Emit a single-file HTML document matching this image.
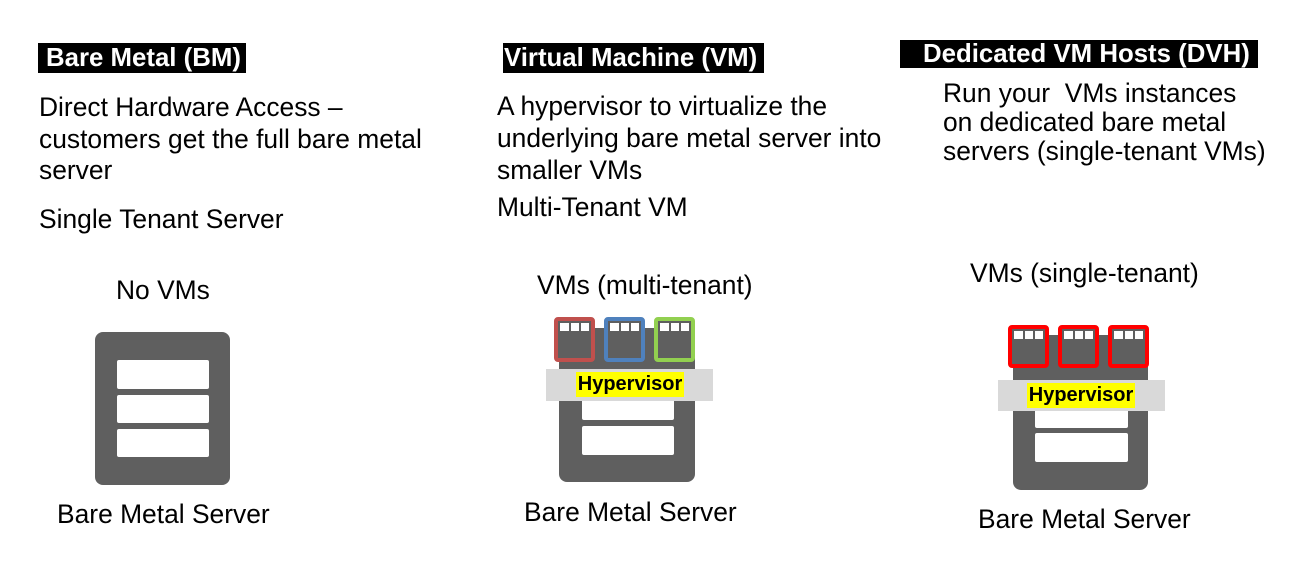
<!DOCTYPE html>
<html><head><meta charset="utf-8"><style>
body{margin:0;width:1296px;height:576px;background:#fff;position:relative;overflow:hidden;font-family:"Liberation Sans",sans-serif;color:#000}
.t{position:absolute;font-size:26.4px;line-height:32px;white-space:nowrap}
.h{position:absolute;background:#000;color:#fff;font-weight:bold;font-size:25.8px;line-height:30px;white-space:nowrap;overflow:hidden}
.srv{position:absolute;background:#5f5f5f;border-radius:8px}
.w{position:absolute;background:#fff;border-radius:2px}
.hyp{position:absolute;background:#d9d9d9}
.y{position:absolute;background:#ff0;font-weight:bold;font-size:20px;line-height:25px;text-align:center}
.vm{position:absolute;width:33px;height:37px;border:4px solid;border-radius:4px;background:#5f5f5f}
.vm i{position:absolute;background:#fff}
</style></head><body>
<div class="h" style="left:38px;top:43px;width:208px;height:30px;padding-left:8px;box-sizing:border-box">Bare Metal (BM)</div>
<div class="h" style="left:503px;top:43px;width:261px;height:30px;padding-left:1px;box-sizing:border-box">Virtual Machine (VM)</div>
<div class="h" style="left:900px;top:40px;width:358px;height:28px;line-height:28px;padding-left:23px;box-sizing:border-box">Dedicated VM Hosts (DVH)</div>

<div class="t" style="left:39px;top:91px">Direct Hardware Access –</div>
<div class="t" style="left:39px;top:123px">customers get the full bare metal</div>
<div class="t" style="left:39px;top:154px">server</div>
<div class="t" style="left:39px;top:203px">Single Tenant Server</div>

<div class="t" style="left:497px;top:90px">A hypervisor to virtualize the</div>
<div class="t" style="left:497px;top:122px">underlying bare metal server into</div>
<div class="t" style="left:497px;top:154px">smaller VMs</div>
<div class="t" style="left:497px;top:191px">Multi-Tenant VM</div>

<div class="t" style="left:943px;top:79px;line-height:29px">Run your&nbsp; VMs instances<br>on dedicated bare metal<br>servers (single-tenant VMs)</div>

<div class="t" style="left:116px;top:274px">No VMs</div>
<div class="t" style="left:537px;top:269px">VMs (multi-tenant)</div>
<div class="t" style="left:970px;top:257px">VMs (single-tenant)</div>
<div class="t" style="left:57px;top:498px">Bare Metal Server</div>
<div class="t" style="left:524px;top:496px">Bare Metal Server</div>
<div class="t" style="left:978px;top:503px">Bare Metal Server</div>

<div class="srv" style="left:95px;top:332px;width:135px;height:153px"></div>
<div class="w" style="left:117px;top:360px;width:92px;height:29px"></div>
<div class="w" style="left:117px;top:395px;width:92px;height:28px"></div>
<div class="w" style="left:117px;top:429px;width:92px;height:28px"></div>

<div class="srv" style="left:559px;top:328px;width:136px;height:154px"></div>
<div class="w" style="left:582px;top:395px;width:92px;height:25px"></div>
<div class="w" style="left:582px;top:426px;width:92px;height:29px"></div>
<div class="hyp" style="left:546px;top:369px;width:167px;height:32px"></div>
<div class="y" style="left:576px;top:372px;width:108px">Hypervisor</div>
<div class="vm" style="left:554px;top:317px;border-color:#c0504d"><i style="left:2px;top:2px;width:9px;height:8px"></i><i style="left:13px;top:2px;width:8px;height:8px"></i><i style="left:23px;top:2px;width:8px;height:8px"></i></div>
<div class="vm" style="left:604px;top:317px;border-color:#4f81bd"><i style="left:2px;top:2px;width:9px;height:8px"></i><i style="left:13px;top:2px;width:8px;height:8px"></i><i style="left:23px;top:2px;width:8px;height:8px"></i></div>
<div class="vm" style="left:654px;top:317px;border-color:#92d050"><i style="left:2px;top:2px;width:9px;height:8px"></i><i style="left:13px;top:2px;width:8px;height:8px"></i><i style="left:23px;top:2px;width:8px;height:8px"></i></div>

<div class="srv" style="left:1013px;top:335px;width:135px;height:155px"></div>
<div class="w" style="left:1035px;top:405px;width:93px;height:23px"></div>
<div class="w" style="left:1035px;top:433px;width:93px;height:29px"></div>
<div class="hyp" style="left:998px;top:380px;width:167px;height:31px"></div>
<div class="y" style="left:1027px;top:383px;width:108px">Hypervisor</div>
<div class="vm" style="left:1008px;top:325px;border-color:#f00;width:33px;height:35px"><i style="left:2px;top:2px;width:9px;height:8px"></i><i style="left:13px;top:2px;width:8px;height:8px"></i><i style="left:23px;top:2px;width:8px;height:8px"></i></div>
<div class="vm" style="left:1058px;top:325px;border-color:#f00;width:33px;height:35px"><i style="left:2px;top:2px;width:9px;height:8px"></i><i style="left:13px;top:2px;width:8px;height:8px"></i><i style="left:23px;top:2px;width:8px;height:8px"></i></div>
<div class="vm" style="left:1108px;top:325px;border-color:#f00;width:33px;height:35px"><i style="left:2px;top:2px;width:9px;height:8px"></i><i style="left:13px;top:2px;width:8px;height:8px"></i><i style="left:23px;top:2px;width:8px;height:8px"></i></div>
</body></html>
